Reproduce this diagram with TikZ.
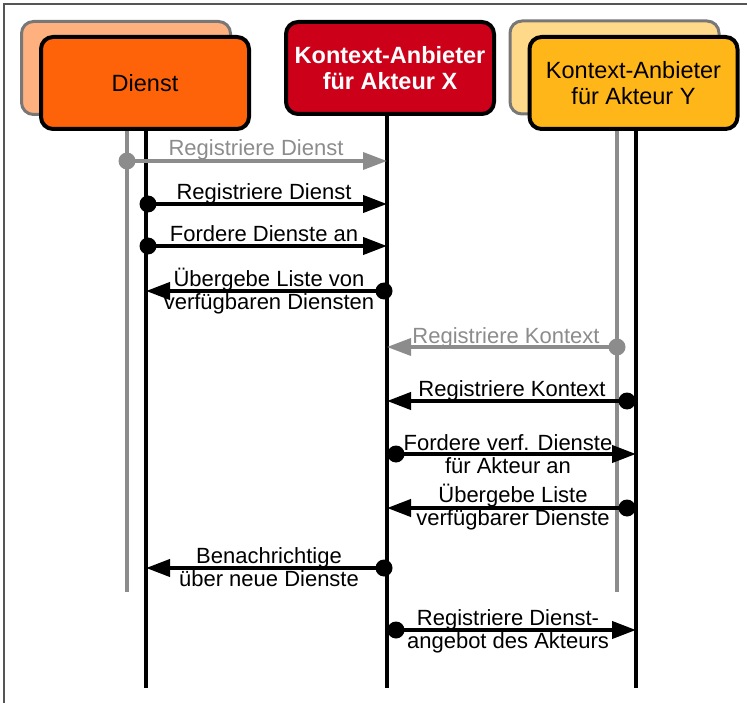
\documentclass[tikz,border=0pt]{standalone}
\usepackage{fontspec}
\setmainfont{Liberation Sans}
\usetikzlibrary{arrows.meta}
\definecolor{dienstfill}{HTML}{FF6309}
\definecolor{dienstghost}{HTML}{FFB07F}
\definecolor{xfill}{HTML}{CC0019}
\definecolor{yfill}{HTML}{FFB619}
\definecolor{yghost}{HTML}{FFD98A}
\definecolor{ghostedge}{HTML}{777777}
\definecolor{ghostgray}{HTML}{8C8C8C}
\definecolor{framecol}{HTML}{555555}
\begin{document}
\begin{tikzpicture}[x=1pt,y=-1pt,
  every node/.style={font=\fontsize{23.5}{23}\selectfont},
  actor/.style={draw=black,line width=4pt,rounded corners=12pt,minimum width=208pt,minimum height=92pt,inner sep=0pt,align=center},
  ghost/.style={draw=ghostedge,line width=3pt,rounded corners=12pt,minimum width=209pt,minimum height=93pt,inner sep=0pt},
  life/.style={line width=3.5pt},
  ghostlife/.style={line width=4pt,draw=ghostgray},
  msg/.style={line width=4pt,-{Triangle[length=24pt,width=17pt]}},
  ghostmsg/.style={msg,draw=ghostgray,fill=ghostgray,line width=3.5pt},
  dot/.style={circle,fill=black,inner sep=0pt,minimum size=17pt},
  ghostdot/.style={circle,fill=ghostgray,inner sep=0pt,minimum size=17pt},
  % anchored at the baseline of the last line
  lbl/.style={anchor=base,align=center,inner sep=0pt,font=\fontsize{22}{23}\selectfont},
  ghostlbl/.style={lbl,text=ghostgray}
]
\useasboundingbox (0,0) rectangle (747,703);
% outer frame
\draw[framecol,line width=1.5pt] (4,703) -- (4,4) -- (747,4);

% participants (with faded earlier versions behind)
\node[ghost,fill=dienstghost] (dghost) at (126,68) {};
\node[ghost,fill=yghost] (yghostbox) at (614.5,67.5) {};
\node[actor,fill=dienstfill] (dienst) at (145,83) {Dienst};
\node[actor,fill=xfill,text=white,font=\fontsize{23.5}{26}\selectfont\bfseries] (kx) at (390,68) {Kontext-Anbieter\\für Akteur X};
\node[actor,fill=yfill,font=\fontsize{23.5}{26}\selectfont] (ky) at (633.5,83) {Kontext-Anbieter\\für Akteur Y};

% lifelines
\coordinate (dgtop) at (127,131);
\coordinate (dgbot) at (127,592);
\coordinate (dtop) at (146,131);
\coordinate (dbot) at (146,688);
\coordinate (xtop) at (387,115);
\coordinate (xbot) at (387,688);
\coordinate (ygtop) at (617,131);
\coordinate (ygbot) at (617,592);
\coordinate (ytop) at (636,131);
\coordinate (ybot) at (636,688);
\draw[ghostlife] (dgtop) -- (dgbot);
\draw[ghostlife] (ygtop) -- (ygbot);
\draw[life] (dtop) -- (dbot);
\draw[life] (xtop) -- (xbot);
\draw[life] (ytop) -- (ybot);

% 1 (faded)
\node[ghostdot] (m1s) at (127,161) {};
\coordinate (m1e) at (387,161);
\draw[ghostmsg] (m1s.center) -- (m1e);
\node[ghostlbl] (m1l) at (256,156) {Registriere Dienst};

% 2
\node[dot] (m2s) at (148,204) {};
\coordinate (m2e) at (387,204);
\draw[msg] (m2s.center) -- (m2e);
\node[lbl] (m2l) at (264,199.5) {Registriere Dienst};

% 3
\node[dot] (m3s) at (148,246) {};
\coordinate (m3e) at (387,246);
\draw[msg] (m3s.center) -- (m3e);
\node[lbl] (m3l) at (264,241.5) {Fordere Dienste an};

% 4
\node[dot] (m4s) at (384,291) {};
\coordinate (m4e) at (146,291);
\draw[msg] (m4s.center) -- (m4e);
\node[lbl] (m4l) at (269,309.5) {Übergebe Liste von\\verfügbaren Diensten};

% 5 (faded)
\node[ghostdot] (m5s) at (617,347) {};
\coordinate (m5e) at (387,347);
\draw[ghostmsg] (m5s.center) -- (m5e);
\node[ghostlbl] (m5l) at (506,343) {Registriere Kontext};

% 6
\node[dot] (m6s) at (627,401) {};
\coordinate (m6e) at (387,401);
\draw[msg] (m6s.center) -- (m6e);
\node[lbl] (m6l) at (512,396.5) {Registriere Kontext};

% 7
\node[dot] (m7s) at (396,454) {};
\coordinate (m7e) at (636,454);
\draw[msg] (m7s.center) -- (m7e);
\node[lbl] (m7l) at (508,473) {Fordere verf. Dienste\\für Akteur an};

% 8
\node[dot] (m8s) at (627,508) {};
\coordinate (m8e) at (387,508);
\draw[msg] (m8s.center) -- (m8e);
\node[lbl] (m8l) at (513,525.5) {Übergebe Liste\\verfügbarer Dienste};

% 9
\node[dot] (m9s) at (384,568) {};
\coordinate (m9e) at (146,568);
\draw[msg] (m9s.center) -- (m9e);
\node[lbl] (m9l) at (269,586.5) {Benachrichtige\\über neue Dienste};

% 10
\node[dot] (m10s) at (396,630) {};
\coordinate (m10e) at (636,630);
\draw[msg] (m10s.center) -- (m10e);
\node[lbl] (m10l) at (508,648.5) {Registriere Dienst-\\angebot des Akteurs};
\end{tikzpicture}
\end{document}
